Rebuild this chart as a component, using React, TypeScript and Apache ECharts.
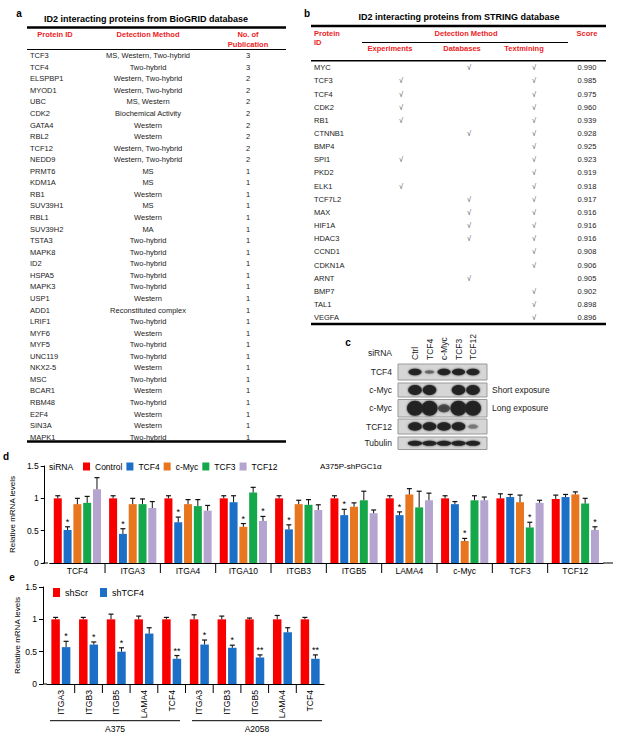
import React, { useEffect, useRef } from "react";
import * as echarts from "echarts";

const FONT = "Liberation Sans";

// ---------------- Table a: BioGRID ----------------
const bioIds = ["TCF3", "TCF4", "ELSPBP1", "MYOD1", "UBC", "CDK2", "GATA4", "RBL2", "TCF12", "NEDD9", "PRMT6", "KDM1A", "RB1", "SUV39H1", "RBL1", "SUV39H2", "TSTA3", "MAPK8", "ID2", "HSPA5", "MAPK3", "USP1", "ADD1", "LRIF1", "MYF6", "MYF5", "UNC119", "NKX2-5", "MSC", "BCAR1", "RBM48", "E2F4", "SIN3A", "MAPK1"];
const bioMethods = ["MS, Western, Two-hybrid", "Two-hybrid", "Western, Two-hybrid", "Western, Two-hybrid", "MS, Western", "Biochemical Activity", "Western", "Western", "Western, Two-hybrid", "Western, Two-hybrid", "MS", "MS", "Western", "MS", "Western", "MA", "Two-hybrid", "Two-hybrid", "Two-hybrid", "Two-hybrid", "Two-hybrid", "Western", "Reconstituted complex", "Two-hybrid", "Western", "Two-hybrid", "Two-hybrid", "Western", "Two-hybrid", "Western", "Two-hybrid", "Western", "Western", "Two-hybrid"];
const bioPubs = [3, 3, 2, 2, 2, 2, 2, 2, 2, 2, 1, 1, 1, 1, 1, 1, 1, 1, 1, 1, 1, 1, 1, 1, 1, 1, 1, 1, 1, 1, 1, 1, 1, 1];

// ---------------- Table b: STRING ----------------
const strIds = ["MYC", "TCF3", "TCF4", "CDK2", "RB1", "CTNNB1", "BMP4", "SPI1", "PKD2", "ELK1", "TCF7L2", "MAX", "HIF1A", "HDAC3", "CCND1", "CDKN1A", "ARNT", "BMP7", "TAL1", "VEGFA"];
const strExperiments = [0, 1, 1, 1, 1, 0, 0, 1, 0, 1, 0, 0, 0, 0, 0, 0, 0, 0, 0, 0];
const strDatabases = [1, 0, 0, 0, 0, 1, 0, 0, 0, 0, 1, 1, 1, 1, 0, 0, 1, 0, 0, 0];
const strTextmining = [1, 1, 1, 1, 1, 1, 1, 1, 1, 1, 1, 1, 1, 1, 1, 1, 0, 1, 1, 1];
const strScores = ["0.990", "0.985", "0.975", "0.960", "0.939", "0.928", "0.925", "0.923", "0.919", "0.918", "0.917", "0.916", "0.916", "0.916", "0.908", "0.906", "0.905", "0.902", "0.898", "0.896"];

// ---------------- Panel c: western blot ----------------
const blotLanes = ["Ctrl", "TCF4", "c-Myc", "TCF3", "TCF12"];
const blotRowLabels = ["TCF4", "c-Myc", "c-Myc", "TCF12", "Tubulin"];
const blotNotes = ["", "Short exposure", "Long exposure", "", ""];
const blotIntensity = [
  [1, 0.35, 1, 1, 1],
  [1, 1, 0, 1, 1],
  [1, 1, 0.5, 1, 1],
  [1, 1, 1, 1, 0.25],
  [1, 1, 1, 1, 0.9],
];

// ---------------- Panel d ----------------
const dCategories = ["TCF4", "ITGA3", "ITGA4", "ITGA10", "ITGB3", "ITGB5", "LAMA4", "c-Myc", "TCF3", "TCF12"];
const dSeriesNames = ["Control", "TCF4", "c-Myc", "TCF3", "TCF12"];
const dControl = [1.0, 1.0, 1.0, 1.0, 1.0, 1.0, 1.0, 1.0, 1.0, 0.99];
const dControlErr = [0.04, 0.04, 0.04, 0.04, 0.04, 0.04, 0.04, 0.04, 0.07, 0.06];
const dTCF4 = [0.51, 0.45, 0.63, 0.94, 0.52, 0.74, 0.74, 0.91, 1.02, 1.02];
const dTCF4Err = [0.05, 0.08, 0.08, 0.1, 0.07, 0.09, 0.05, 0.04, 0.04, 0.04];
const dMyc = [0.91, 0.91, 0.91, 0.56, 0.91, 0.87, 1.06, 0.34, 0.94, 1.06];
const dMycErr = [0.09, 0.09, 0.07, 0.05, 0.06, 0.06, 0.09, 0.04, 0.11, 0.04];
const dTCF3 = [0.93, 0.91, 0.88, 1.09, 0.9, 0.97, 0.86, 0.97, 0.55, 0.92];
const dTCF3Err = [0.1, 0.08, 0.1, 0.08, 0.08, 0.14, 0.25, 0.07, 0.08, 0.08];
const dTCF12 = [1.14, 0.85, 0.81, 0.65, 0.82, 0.77, 0.97, 0.97, 0.93, 0.51];
const dTCF12Err = [0.18, 0.1, 0.08, 0.07, 0.08, 0.05, 0.11, 0.05, 0.04, 0.05];
const dControlStars = ["", "", "", "", "", "", "", "", "", ""];
const dTCF4Stars = ["*", "*", "*", "", "*", "*", "*", "", "", ""];
const dMycStars = ["", "", "", "*", "", "", "", "*", "", ""];
const dTCF3Stars = ["", "", "", "", "", "", "", "", "*", ""];
const dTCF12Stars = ["", "", "", "*", "", "", "", "", "", "*"];

// ---------------- Panel e ----------------
const eCategories = ["ITGA3", "ITGB3", "ITGB5", "LAMA4", "TCF4", "ITGA3", "ITGB3", "ITGB5", "LAMA4", "TCF4"];
const eGroups = ["A375", "A2058"];
const eSeriesNames = ["shScr", "shTCF4"];
const eScr = [1, 1, 1, 1, 1, 1, 1, 1, 1, 1];
const eScrErr = [0.03, 0.03, 0.08, 0.05, 0.03, 0.07, 0.05, 0.02, 0.06, 0.03];
const eTCF4 = [0.57, 0.61, 0.5, 0.78, 0.39, 0.61, 0.56, 0.41, 0.8, 0.39];
const eTCF4Err = [0.09, 0.04, 0.06, 0.09, 0.05, 0.07, 0.04, 0.04, 0.07, 0.06];
const eScrStars = ["", "", "", "", "", "", "", "", "", ""];
const eTCF4Stars = ["*", "*", "*", "", "**", "*", "*", "**", "", "**"];

const COLORS = ["#f80000", "#1c6fc6", "#e8761e", "#14a84b", "#b4a4cf"];
const RED = "#ee1c24";

type AnyObj = Record<string, any>;

function txt(text: string, x: number, y: number, o: AnyObj = {}): AnyObj {
  const align = o.align ?? "left";
  const va = o.va ?? "middle";
  return {
    type: "text",
    x,
    y,
    rotation: o.rot ?? 0,
    silent: true,
    style: {
      text,
      fontFamily: FONT,
      fontSize: o.size ?? 7.5,
      fontWeight: o.bold ? "bold" : "normal",
      fill: o.color ?? "#222",
      align,
      verticalAlign: va,
      textAlign: align,
      textVerticalAlign: va,
    },
  };
}

function ln(x1: number, y1: number, x2: number, y2: number, w = 1, color = "#000"): AnyObj {
  return { type: "line", silent: true, shape: { x1, y1, x2, y2 }, style: { stroke: color, lineWidth: w } };
}

function buildGraphics(): AnyObj[] {
  const g: AnyObj[] = [];
  // panel letters
  g.push(txt("a", 19, 13, { bold: true, size: 10, color: "#000", align: "center" }));
  g.push(txt("b", 307, 13, { bold: true, size: 10, color: "#000", align: "center" }));
  g.push(txt("c", 348, 342, { bold: true, size: 10, color: "#000", align: "center" }));
  g.push(txt("d", 6, 456, { bold: true, size: 10, color: "#000", align: "center" }));
  g.push(txt("e", 12, 577, { bold: true, size: 10, color: "#000", align: "center" }));

  // ---- Table a
  g.push(txt("ID2 interacting proteins from BioGRID database", 146, 19, { bold: true, size: 9, color: "#000", align: "center" }));
  g.push(ln(27, 27.5, 286, 27.5, 2.5));
  g.push(txt("Protein ID", 55, 34.7, { bold: true, color: RED, align: "center" }));
  g.push(txt("Detection Method", 148, 34.7, { bold: true, color: RED, align: "center" }));
  g.push(txt("No. of", 248, 34.7, { bold: true, color: RED, align: "center" }));
  g.push(txt("Publication", 248, 44.5, { bold: true, color: RED, align: "center" }));
  g.push(ln(27, 49.5, 286, 49.5, 1));
  bioIds.forEach((id, i) => {
    const y = 55.7 + i * 11.56;
    g.push(txt(id, 30, y));
    g.push(txt(bioMethods[i], 148, y, { align: "center" }));
    g.push(txt(String(bioPubs[i]), 248, y, { align: "center" }));
  });
  g.push(ln(27, 441.5, 286, 441.5, 2.5));

  // ---- Table b
  g.push(txt("ID2 interacting proteins from STRING database", 459, 16.7, { bold: true, size: 9, color: "#000", align: "center" }));
  g.push(ln(311, 26, 606, 26, 2.5));
  g.push(txt("Protein", 314, 33.3, { bold: true, color: RED }));
  g.push(txt("ID", 314, 42.3, { bold: true, color: RED }));
  g.push(txt("Detection Method", 466, 33, { bold: true, color: RED, align: "center" }));
  g.push(txt("Score", 587, 33, { bold: true, color: RED, align: "center" }));
  g.push(ln(362, 42.5, 568, 42.5, 1));
  g.push(txt("Experiments", 390, 48.5, { bold: true, color: RED, align: "center" }));
  g.push(txt("Databases", 462, 48.5, { bold: true, color: RED, align: "center" }));
  g.push(txt("Textmining", 524, 48.5, { bold: true, color: RED, align: "center" }));
  g.push(ln(311, 60.7, 606, 60.7, 1.5));
  strIds.forEach((id, i) => {
    const y = 67.7 + i * 13.16;
    g.push(txt(id, 314, y));
    if (strExperiments[i]) g.push(txt("√", 401, y, { align: "center", color: "#555" }));
    if (strDatabases[i]) g.push(txt("√", 469, y, { align: "center", color: "#555" }));
    if (strTextmining[i]) g.push(txt("√", 534, y, { align: "center", color: "#555" }));
    g.push(txt(strScores[i], 587, y, { align: "center" }));
  });
  g.push(ln(311, 324, 606, 324, 2.5));

  // ---- Panel c blot
  const boxX0 = 398, boxX1 = 487;
  const rows = [
    [364, 380, 6.5, 3.2],
    [383, 397, 6.8, 5],
    [399.5, 417, 8, 7.5],
    [419, 434, 6.8, 4.2],
    [437, 449.5, 7.2, 2.6],
  ];
  const laneX = blotLanes.map((_, i) => 415 + i * 14.5);
  g.push(txt("siRNA", 392, 353, { size: 8.5, align: "right" }));
  blotLanes.forEach((l, i) => g.push(txt(l, laneX[i], 360, { size: 8.5, rot: Math.PI / 2 })));
  rows.forEach((r, ri) => {
    const [y0, y1, rx, ry] = r;
    const cy = (y0 + y1) / 2;
    g.push({ type: "rect", silent: true, shape: { x: boxX0, y: y0, width: boxX1 - boxX0, height: y1 - y0 }, style: { fill: "#d6d6d6", stroke: "#9a9a9a", lineWidth: 1 } });
    blotIntensity[ri].forEach((v, li) => {
      if (v <= 0) return;
      const sx = v < 0.6 ? 0.75 : 1;
      const sy = v < 0.6 ? 0.55 : 1;
      g.push({
        type: "ellipse",
        silent: true,
        shape: { cx: laneX[li], cy, rx: rx * sx, ry: ry * sy },
        style: { fill: "#202020", opacity: v < 0.6 ? v + 0.1 : 0.95, shadowBlur: 2, shadowColor: "#303030" },
      });
    });
    g.push(txt(blotRowLabels[ri], 392, cy, { size: 8.5, align: "right" }));
    if (blotNotes[ri]) g.push(txt(blotNotes[ri], 492, cy, { size: 8.5 }));
  });

  // ---- Panel d extras
  g.push(txt("siRNA", 49, 467, { size: 8.5, color: "#000" }));
  g.push(txt("A375P-shPGC1α", 320, 466, { size: 8, color: "#000" }));
  g.push(ln(43, 563, 48, 563, 1));
  g.push(ln(603, 563, 613, 563, 1));

  // ---- Panel e extras
  g.push(ln(43, 684, 47, 684, 1));
  g.push(ln(50, 720.7, 180, 720.7, 1));
  g.push(ln(192, 720.7, 322, 720.7, 1));
  g.push(txt(eGroups[0], 115, 729, { size: 8.5, color: "#000", align: "center" }));
  g.push(txt(eGroups[1], 257, 729, { size: 8.5, color: "#000", align: "center" }));
  return g;
}

function errSeries(name: string, gridIdx: number, vals: number[], errs: number[], stars: string[], k: number, n: number, bw: number, gap: number): AnyObj {
  const step = bw + gap;
  const total = n * bw + (n - 1) * gap;
  const off = -total / 2 + k * step + bw / 2;
  return {
    type: "custom",
    name,
    xAxisIndex: gridIdx,
    yAxisIndex: gridIdx,
    silent: true,
    z: 5,
    data: vals.map((v, i) => [i, v, errs[i]]),
    renderItem: (params: any, api: any) => {
      const i = api.value(0);
      const v = api.value(1);
      const e = api.value(2);
      const base = api.coord([i, v]);
      const top = api.coord([i, v + e]);
      const x = base[0] + off;
      const children: AnyObj[] = [
        { type: "line", shape: { x1: x, y1: base[1], x2: x, y2: top[1] }, style: { stroke: "#111", lineWidth: 1 } },
        { type: "line", shape: { x1: x - 2.5, y1: top[1], x2: x + 2.5, y2: top[1] }, style: { stroke: "#111", lineWidth: 1.2 } },
      ];
      const s = stars[params.dataIndex];
      if (s) {
        children.push({
          type: "text",
          x,
          y: top[1] - 0.5,
          style: { text: s, fontFamily: FONT, fontSize: 9, fill: "#000", align: "center", verticalAlign: "bottom", textAlign: "center", textVerticalAlign: "bottom" },
        });
      }
      return { type: "group", children };
    },
  };
}

function sepSeries(gridIdx: number, count: number, len: number): AnyObj {
  const data: number[][] = [];
  for (let i = 1; i < count; i++) data.push([i, 0]);
  return {
    type: "custom",
    xAxisIndex: gridIdx,
    yAxisIndex: gridIdx,
    silent: true,
    data,
    renderItem: (_p: any, api: any) => {
      const p = api.coord([api.value(0), 0]);
      const band = api.size([1, 0])[0];
      const x = p[0] - band / 2;
      return { type: "line", shape: { x1: x, y1: p[1], x2: x, y2: p[1] + len }, style: { stroke: "#000", lineWidth: 1 } };
    },
  };
}

function yAxisCfg(gridIndex: number, offset: number): AnyObj {
  return {
    gridIndex,
    type: "value",
    min: 0,
    max: 1.5,
    interval: 0.5,
    offset,
    axisLine: { show: true, lineStyle: { color: "#000", width: 1 } },
    axisTick: { show: true, length: 4, lineStyle: { color: "#000" } },
    axisLabel: { fontSize: 8.5, color: "#000", fontFamily: FONT, margin: 6 },
    splitLine: { show: false },
    name: "Relative mRNA levels",
    nameLocation: "middle",
    nameGap: 19,
    nameTextStyle: { fontSize: 8, color: "#000", fontFamily: FONT },
  };
}

function buildOption(): AnyObj {
  const dVals = [dControl, dTCF4, dMyc, dTCF3, dTCF12];
  const dErrs = [dControlErr, dTCF4Err, dMycErr, dTCF3Err, dTCF12Err];
  const dStars = [dControlStars, dTCF4Stars, dMycStars, dTCF3Stars, dTCF12Stars];
  const eVals = [eScr, eTCF4];
  const eErrs = [eScrErr, eTCF4Err];
  const eStars = [eScrStars, eTCF4Stars];
  const dBW = 8, dGap = 1.8;
  const eBW = 8.5, eGap = 2;

  const series: AnyObj[] = [];
  dSeriesNames.forEach((name, k) => {
    series.push({
      type: "bar",
      name,
      xAxisIndex: 0,
      yAxisIndex: 0,
      data: dVals[k],
      barWidth: dBW,
      barGap: (dGap / dBW) * 100 + "%",
      itemStyle: { color: COLORS[k] },
      silent: true,
    });
  });
  eSeriesNames.forEach((name, k) => {
    series.push({
      type: "bar",
      name,
      xAxisIndex: 1,
      yAxisIndex: 1,
      data: eVals[k],
      barWidth: eBW,
      barGap: (eGap / eBW) * 100 + "%",
      itemStyle: { color: COLORS[k] },
      silent: true,
    });
  });
  dSeriesNames.forEach((name, k) => series.push(errSeries("err-" + name, 0, dVals[k], dErrs[k], dStars[k], k, 5, dBW, dGap)));
  eSeriesNames.forEach((name, k) => series.push(errSeries("err-" + name, 1, eVals[k], eErrs[k], eStars[k], k, 2, eBW, eGap)));
  series.push(sepSeries(0, dCategories.length, 10));
  series.push(sepSeries(1, eCategories.length, 9));

  return {
    animation: false,
    backgroundColor: "#fff",
    textStyle: { fontFamily: FONT },
    grid: [
      { left: 48, top: 466, width: 555, height: 97 },
      { left: 47, top: 587, width: 277, height: 97 },
    ],
    xAxis: [
      {
        gridIndex: 0,
        type: "category",
        data: dCategories,
        axisLine: { lineStyle: { color: "#000", width: 1 } },
        axisTick: { show: false },
        axisLabel: { fontSize: 8.5, color: "#000", fontFamily: FONT, margin: 3, interval: 0 },
      },
      {
        gridIndex: 1,
        type: "category",
        data: eCategories,
        axisLine: { lineStyle: { color: "#000", width: 1 } },
        axisTick: { show: false },
        axisLabel: { fontSize: 8.6, color: "#000", fontFamily: FONT, margin: 6, rotate: 90, interval: 0 },
      },
    ],
    yAxis: [yAxisCfg(0, 5), yAxisCfg(1, 4)],
    legend: [
      {
        data: dSeriesNames,
        left: 83,
        top: 462,
        padding: 0,
        itemWidth: 7,
        itemHeight: 8,
        itemGap: 4,
        icon: "rect",
        selectedMode: false,
        textStyle: { fontSize: 8.5, color: "#000", fontFamily: FONT },
      },
      {
        data: eSeriesNames,
        left: 53,
        top: 588,
        padding: 0,
        itemWidth: 7,
        itemHeight: 9,
        itemGap: 12,
        icon: "rect",
        selectedMode: false,
        textStyle: { fontSize: 9, color: "#000", fontFamily: FONT },
      },
    ],
    graphic: { elements: buildGraphics() },
    series,
  };
}

export default function App() {
  const ref = useRef<HTMLDivElement>(null);
  useEffect(() => {
    if (!ref.current) return;
    const chart = echarts.init(ref.current, undefined, { renderer: "svg" });
    chart.setOption(buildOption());
    return () => chart.dispose();
  }, []);
  return <div ref={ref} style={{ position: "absolute", left: 0, top: 0, width: 624, height: 741, background: "#fff" }} />;
}
